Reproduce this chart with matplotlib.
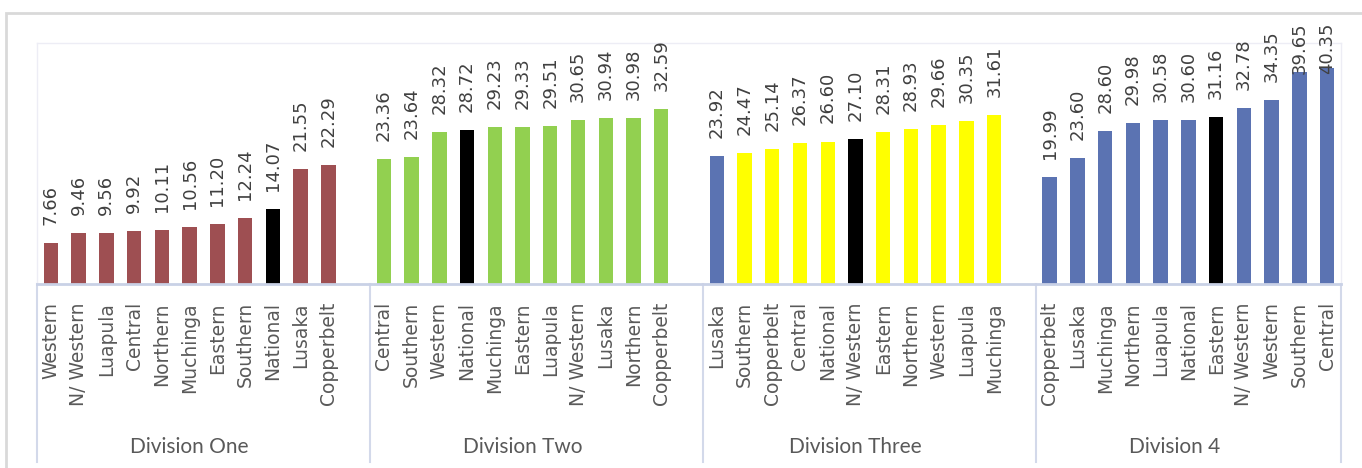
import matplotlib.pyplot as plt
from matplotlib.patches import Rectangle
from matplotlib.transforms import blended_transform_factory

plt.rcParams["font.family"] = ["DejaVu Sans"]

# regions per division, in chart order
div_one_names = ["Western", "N/ Western", "Luapula", "Central", "Northern", "Muchinga",
                 "Eastern", "Southern", "National", "Lusaka", "Copperbelt"]
div_one_vals = [7.66, 9.46, 9.56, 9.92, 10.11, 10.56, 11.20, 12.24, 14.07, 21.55, 22.29]

div_two_names = ["Central", "Southern", "Western", "National", "Muchinga", "Eastern",
                 "Luapula", "N/ Western", "Lusaka", "Northern", "Copperbelt"]
div_two_vals = [23.36, 23.64, 28.32, 28.72, 29.23, 29.33, 29.51, 30.65, 30.94, 30.98, 32.59]

div_three_names = ["Lusaka", "Southern", "Copperbelt", "Central", "National", "N/ Western",
                   "Eastern", "Northern", "Western", "Luapula", "Muchinga"]
div_three_vals = [23.92, 24.47, 25.14, 26.37, 26.60, 27.10, 28.31, 28.93, 29.66, 30.35, 31.61]

div_four_names = ["Copperbelt", "Lusaka", "Muchinga", "Northern", "Luapula", "National",
                  "Eastern", "N/ Western", "Western", "Southern", "Central"]
div_four_vals = [19.99, 23.60, 28.60, 29.98, 30.58, 30.60, 31.16, 32.78, 34.35, 39.65, 40.35]

group_labels = ["Division One", "Division Two", "Division Three", "Division 4"]

BROWN = "#9E4F52"
GREEN = "#92D050"
YELLOW = "#FFFF00"
BLUE = "#5B73B2"
BLACK = "#000000"

div_one_cols = [BROWN] * 8 + [BLACK] + [BROWN] * 2
div_two_cols = [GREEN] * 3 + [BLACK] + [GREEN] * 7
div_three_cols = [BLUE] + [YELLOW] * 4 + [BLACK] + [YELLOW] * 5
div_four_cols = [BLUE] * 6 + [BLACK] + [BLUE] * 4

groups = [
    (div_one_names, div_one_vals, div_one_cols),
    (div_two_names, div_two_vals, div_two_cols),
    (div_three_names, div_three_vals, div_three_cols),
    (div_four_names, div_four_vals, div_four_cols),
]

fig = plt.figure(figsize=(13.62, 4.68), dpi=100)
ax = fig.add_axes([37 / 1362, 184 / 468, 1304 / 1362, 241 / 468])

# outer chart border
fig.patches.append(Rectangle((6 / 1362, -0.1), 1.2, (468 - 13) / 468 + 0.1,
                             transform=fig.transFigure, fill=False,
                             edgecolor="#D9D9D9", linewidth=2))

trans = blended_transform_factory(ax.transData, ax.transAxes)

slot = 12  # 11 regions + one empty slot per division
positions, names = [], []
for g, (nm, vals, cols) in enumerate(groups):
    xs = [g * slot + i for i in range(len(vals))]
    ax.bar(xs, vals, width=0.52, color=cols)
    for x, v in zip(xs, vals):
        if v > 36:
            # label would run off the chart: pin it under the top edge
            ax.annotate(f"{v:.2f}", (x, 1), xycoords=trans, xytext=(0, 14.5),
                        textcoords="offset points", rotation=90, ha="center",
                        va="top", fontsize=13, color="#404040")
        else:
            ax.annotate(f"{v:.2f}", (x, v), xytext=(0, 13), textcoords="offset points",
                        rotation=90, ha="center", va="bottom", fontsize=13, color="#404040")
    positions += xs
    names += nm

ax.set_xlim(-0.5, 46.5)
ax.set_ylim(0, 45)
ax.set_yticks([])
ax.set_xticks(positions)
ax.set_xticklabels(names, rotation=90, fontsize=13.5, color="#595959")
ax.tick_params(axis="x", length=0, pad=13)

for side in ["top", "left", "right"]:
    ax.spines[side].set_color("#EDEDF5")
    ax.spines[side].set_linewidth(1)
ax.spines["bottom"].set_color("#C9D1E6")
ax.spines["bottom"].set_linewidth(2)

# division separators below the axis
for b in [-0.5, 11.5, 23.5, 35.5, 46.5]:
    ax.plot([b, b], [0, -178 / 241], transform=trans, clip_on=False,
            color="#D3D9EA", linewidth=1.5)

centers = [5, 17, 29, 40.5]
for c, lab in zip(centers, group_labels):
    ax.text(c, -163 / 241, lab, transform=trans, ha="center", va="center",
            fontsize=15, family="Lato", color="#595959")

fig.savefig("out.png", dpi=100)
